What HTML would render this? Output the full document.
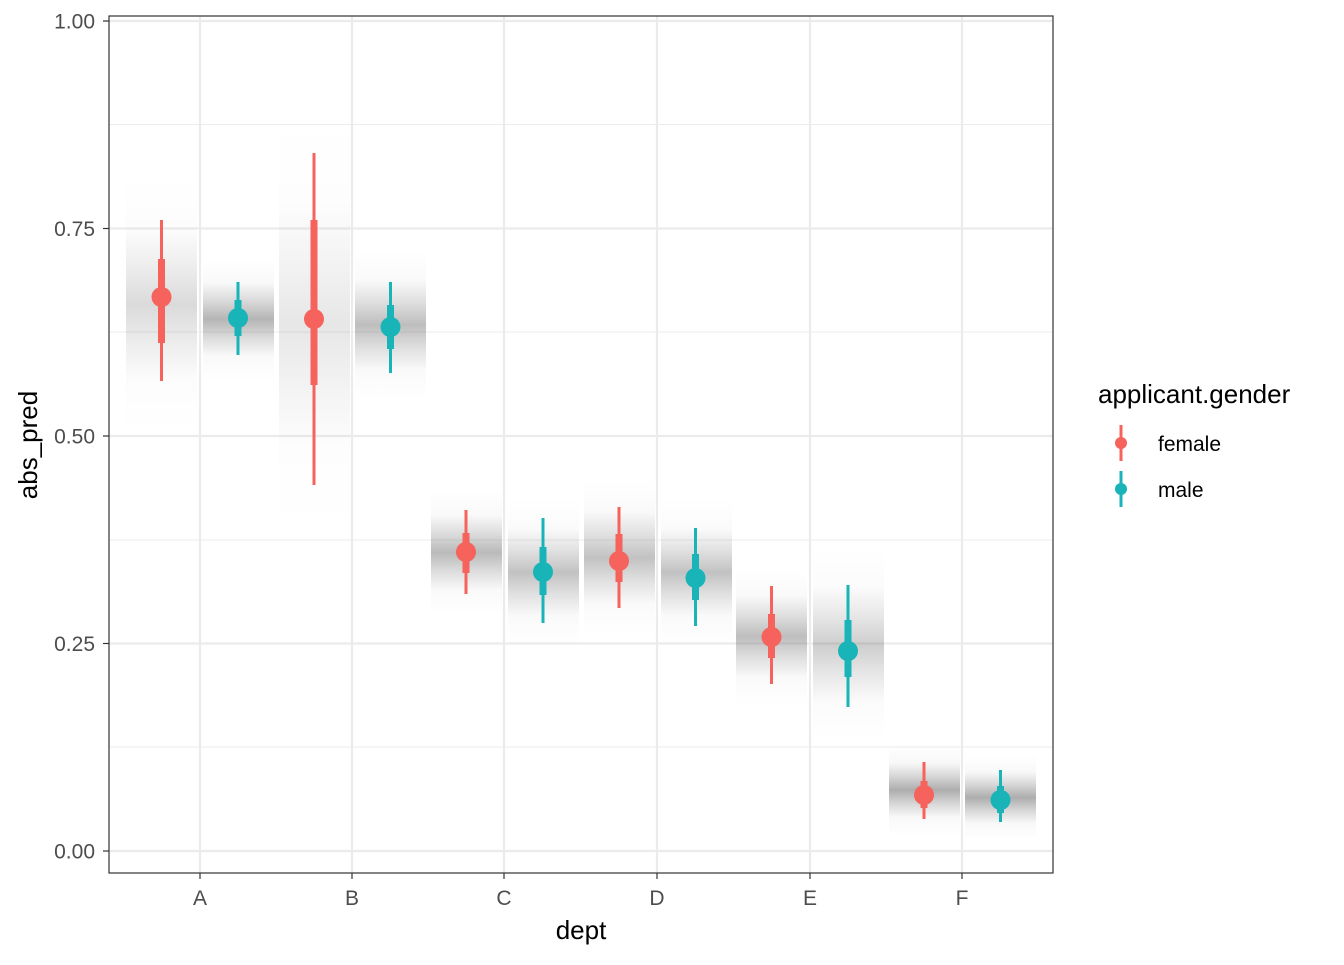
<!DOCTYPE html>
<html><head><meta charset="utf-8"><style>html,body{margin:0;padding:0;background:#fff}</style></head>
<body>
<svg width="1344" height="960" xmlns="http://www.w3.org/2000/svg" font-family="Liberation Sans, Arial, sans-serif">
<defs>
<linearGradient id="g1" x1="0" y1="0" x2="0" y2="1">
<stop offset="0" stop-color="#777" stop-opacity="0"/>
<stop offset="0.2" stop-color="#777" stop-opacity="0.05"/>
<stop offset="0.35" stop-color="#777" stop-opacity="0.3"/>
<stop offset="0.5" stop-color="#777" stop-opacity="0.6"/>
<stop offset="0.65" stop-color="#777" stop-opacity="0.3"/>
<stop offset="0.8" stop-color="#777" stop-opacity="0.05"/>
<stop offset="1" stop-color="#777" stop-opacity="0"/>
</linearGradient>
</defs>
<rect x="109" y="16" width="944" height="857" fill="#fff"/>
<g stroke="#EBEBEB" stroke-width="1.1">
<line x1="109" x2="1053" y1="747" y2="747"/><line x1="109" x2="1053" y1="540" y2="540"/>
<line x1="109" x2="1053" y1="332" y2="332"/><line x1="109" x2="1053" y1="124.5" y2="124.5"/>
</g>
<g stroke="#EBEBEB" stroke-width="2.2">
<line x1="109" x2="1053" y1="851" y2="851"/><line x1="109" x2="1053" y1="643.5" y2="643.5"/>
<line x1="109" x2="1053" y1="436" y2="436"/><line x1="109" x2="1053" y1="228.5" y2="228.5"/>
<line x1="109" x2="1053" y1="21" y2="21"/>
<line x1="200" x2="200" y1="16" y2="873"/><line x1="352" x2="352" y1="16" y2="873"/>
<line x1="504" x2="504" y1="16" y2="873"/><line x1="657" x2="657" y1="16" y2="873"/>
<line x1="810" x2="810" y1="16" y2="873"/><line x1="962" x2="962" y1="16" y2="873"/>
</g>
<g fill="url(#g1)">
<rect x="126" y="180" width="71" height="250" opacity="0.45"/>
<rect x="203" y="258" width="71" height="122" opacity="0.9"/>
<rect x="279" y="120" width="71" height="410" opacity="0.3"/>
<rect x="355" y="250" width="71" height="150" opacity="0.8"/>
<rect x="431" y="490" width="71" height="125" opacity="0.85"/>
<rect x="508" y="500" width="71" height="145" opacity="0.75"/>
<rect x="584" y="480" width="71" height="155" opacity="0.75"/>
<rect x="661" y="500" width="71" height="145" opacity="0.75"/>
<rect x="736" y="568" width="71" height="137" opacity="0.8"/>
<rect x="813" y="550" width="71" height="190" opacity="0.6"/>
<rect x="889" y="745" width="71" height="90" opacity="1"/>
<rect x="965" y="755" width="71" height="85" opacity="1"/>
</g>
<g stroke-linecap="butt">
<g stroke="#F5635C" fill="#F5635C">
<line x1="161.5" x2="161.5" y1="220" y2="381" stroke-width="3"/><line x1="161.5" x2="161.5" y1="259" y2="343" stroke-width="7"/><circle cx="161.5" cy="297" r="10" stroke="none"/>
<line x1="314" x2="314" y1="153" y2="485" stroke-width="3"/><line x1="314" x2="314" y1="220" y2="385" stroke-width="7"/><circle cx="314" cy="319" r="10" stroke="none"/>
<line x1="466" x2="466" y1="510" y2="594" stroke-width="3"/><line x1="466" x2="466" y1="533" y2="573" stroke-width="7"/><circle cx="466" cy="552" r="10" stroke="none"/>
<line x1="619" x2="619" y1="507" y2="608" stroke-width="3"/><line x1="619" x2="619" y1="534" y2="582" stroke-width="7"/><circle cx="619" cy="561" r="10" stroke="none"/>
<line x1="771.5" x2="771.5" y1="586" y2="684" stroke-width="3"/><line x1="771.5" x2="771.5" y1="614" y2="658" stroke-width="7"/><circle cx="771.5" cy="637" r="10" stroke="none"/>
<line x1="924" x2="924" y1="762" y2="819" stroke-width="3"/><line x1="924" x2="924" y1="781" y2="808" stroke-width="7"/><circle cx="924" cy="795" r="10" stroke="none"/>
</g>
<g stroke="#18B4B8" fill="#18B4B8">
<line x1="238" x2="238" y1="282" y2="355" stroke-width="3"/><line x1="238" x2="238" y1="300" y2="336" stroke-width="7"/><circle cx="238" cy="318" r="10" stroke="none"/>
<line x1="390.5" x2="390.5" y1="282" y2="373" stroke-width="3"/><line x1="390.5" x2="390.5" y1="305" y2="349" stroke-width="7"/><circle cx="390.5" cy="327" r="10" stroke="none"/>
<line x1="543" x2="543" y1="518" y2="623" stroke-width="3"/><line x1="543" x2="543" y1="547" y2="595" stroke-width="7"/><circle cx="543" cy="572" r="10" stroke="none"/>
<line x1="695.5" x2="695.5" y1="528" y2="626" stroke-width="3"/><line x1="695.5" x2="695.5" y1="554" y2="600" stroke-width="7"/><circle cx="695.5" cy="578" r="10" stroke="none"/>
<line x1="848" x2="848" y1="585" y2="707" stroke-width="3"/><line x1="848" x2="848" y1="620" y2="677" stroke-width="7"/><circle cx="848" cy="651" r="10" stroke="none"/>
<line x1="1000.5" x2="1000.5" y1="770" y2="822" stroke-width="3"/><line x1="1000.5" x2="1000.5" y1="786" y2="813" stroke-width="7"/><circle cx="1000.5" cy="800" r="10" stroke="none"/>
</g>
</g>
<rect x="109" y="16" width="944" height="857" fill="none" stroke="#333" stroke-width="1.2"/>
<g stroke="#333" stroke-width="1.2">
<line x1="103" x2="109" y1="851" y2="851"/><line x1="103" x2="109" y1="643.5" y2="643.5"/>
<line x1="103" x2="109" y1="436" y2="436"/><line x1="103" x2="109" y1="228.5" y2="228.5"/><line x1="103" x2="109" y1="21" y2="21"/>
<line x1="200" x2="200" y1="873" y2="879"/><line x1="352" x2="352" y1="873" y2="879"/><line x1="504" x2="504" y1="873" y2="879"/>
<line x1="657" x2="657" y1="873" y2="879"/><line x1="810" x2="810" y1="873" y2="879"/><line x1="962" x2="962" y1="873" y2="879"/>
</g>
<g fill="#4D4D4D" font-size="21" text-anchor="end">
<text x="95" y="858.5">0.00</text><text x="95" y="651">0.25</text><text x="95" y="443.5">0.50</text><text x="95" y="236">0.75</text><text x="95" y="28.5">1.00</text>
</g>
<g fill="#4D4D4D" font-size="21" text-anchor="middle">
<text x="200" y="905">A</text><text x="352" y="905">B</text><text x="504" y="905">C</text><text x="657" y="905">D</text><text x="810" y="905">E</text><text x="962" y="905">F</text>
</g>
<text x="581" y="939" font-size="26" text-anchor="middle" fill="#000">dept</text>
<text transform="translate(37,445) rotate(-90)" font-size="26" text-anchor="middle" fill="#000">abs_pred</text>
<text x="1098" y="403" font-size="26" fill="#000">applicant.gender</text>
<line x1="1121" x2="1121" y1="425" y2="461" stroke="#F5635C" stroke-width="3"/><circle cx="1121" cy="443" r="6" fill="#F5635C"/>
<line x1="1121" x2="1121" y1="471" y2="507" stroke="#18B4B8" stroke-width="3"/><circle cx="1121" cy="489" r="6" fill="#18B4B8"/>
<text x="1158" y="451" font-size="21" fill="#000">female</text>
<text x="1158" y="497" font-size="21" fill="#000">male</text>
</svg>
</body></html>
